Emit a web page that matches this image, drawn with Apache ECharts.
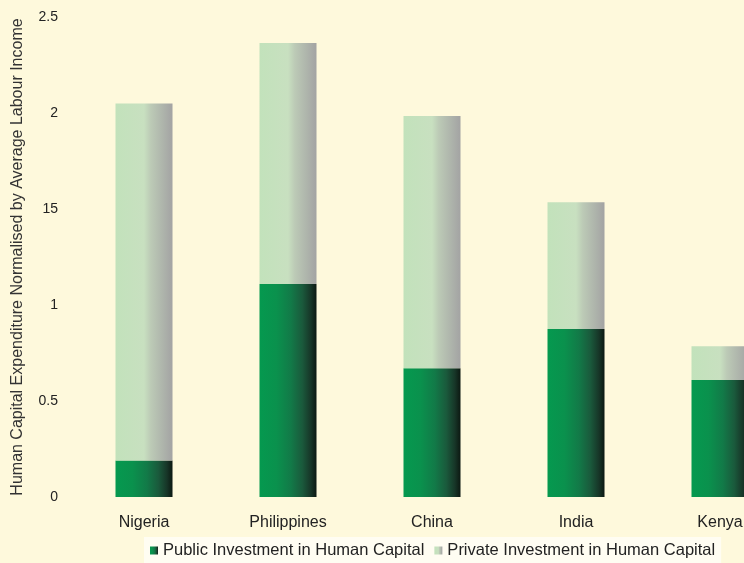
<!DOCTYPE html>
<html><head><meta charset="utf-8">
<script src="https://cdn.jsdelivr.net/npm/echarts@6/dist/echarts.min.js"></script>
<style>html,body{margin:0;padding:0;background:#fef9dc;}#c{width:744px;height:563px;}</style>
</head><body><div id="c"></div>
<script>
const categories = ["Nigeria", "Philippines", "China", "India", "Kenya"];
const publicInvestment = [0.19, 1.11, 0.67, 0.875, 0.61];
const privateInvestment = [1.86, 1.255, 1.315, 0.66, 0.175];
const yTickLabels = {"0": "0", "0.5": "0.5", "1": "1", "1.5": "15", "2": "2", "2.5": "2.5"};

const chart = echarts.init(document.getElementById('c'));
const pubGrad = new echarts.graphic.LinearGradient(0, 0, 1, 0, [
  {offset: 0, color: '#05994f'}, {offset: 0.3, color: '#0a914d'},
  {offset: 0.55, color: '#127a48'}, {offset: 0.75, color: '#1a5a3c'},
  {offset: 0.9, color: '#173628'}, {offset: 1, color: '#0c1812'}]);
const privGrad = new echarts.graphic.LinearGradient(0, 0, 1, 0, [
  {offset: 0, color: '#c2e2bb'}, {offset: 0.5, color: '#c8e0c0'},
  {offset: 0.62, color: '#bccab6'}, {offset: 1, color: '#a3a3a3'}]);
chart.setOption({
  backgroundColor: '#fef9dc',
  animation: false,
  grid: {left: 72, top: 17, width: 720, height: 480, containLabel: false, outerBoundsMode: 'none'},
  legend: {
    bottom: 0, left: 144, itemWidth: 8, itemHeight: 8, itemGap: 10,
    backgroundColor: '#fffdf2', padding: [5, 6, 4, 6],
    textStyle: {fontFamily: 'Liberation Sans', fontSize: 16.5, color: '#222'},
    data: [
      {name: 'Public Investment in Human Capital', icon: 'rect'},
      {name: 'Private Investment in Human Capital', icon: 'rect'}]
  },
  xAxis: {
    type: 'category', data: categories,
    axisLine: {show: false}, axisTick: {show: false},
    axisLabel: {fontFamily: 'Liberation Sans', fontSize: 16, color: '#222', margin: 18, hideOverlap: false}
  },
  yAxis: {
    type: 'value', min: 0, max: 2.5, interval: 0.5,
    name: 'Human Capital Expenditure Normalised by Average Labour Income',
    nameLocation: 'middle', nameGap: 46, nameRotate: 90,
    nameTextStyle: {fontFamily: 'Liberation Sans', fontSize: 16, color: '#333'},
    axisLine: {show: false}, axisTick: {show: false}, splitLine: {show: false},
    axisLabel: {fontFamily: 'Liberation Sans', fontSize: 14, color: '#222', margin: 14,
      formatter: v => yTickLabels[String(v)] ?? String(v)}
  },
  series: [
    {name: 'Public Investment in Human Capital', type: 'bar', stack: 'a', barWidth: 57,
     data: publicInvestment, itemStyle: {color: pubGrad}},
    {name: 'Private Investment in Human Capital', type: 'bar', stack: 'a', barWidth: 57,
     data: privateInvestment, itemStyle: {color: privGrad}}
  ]
});
</script></body></html>
